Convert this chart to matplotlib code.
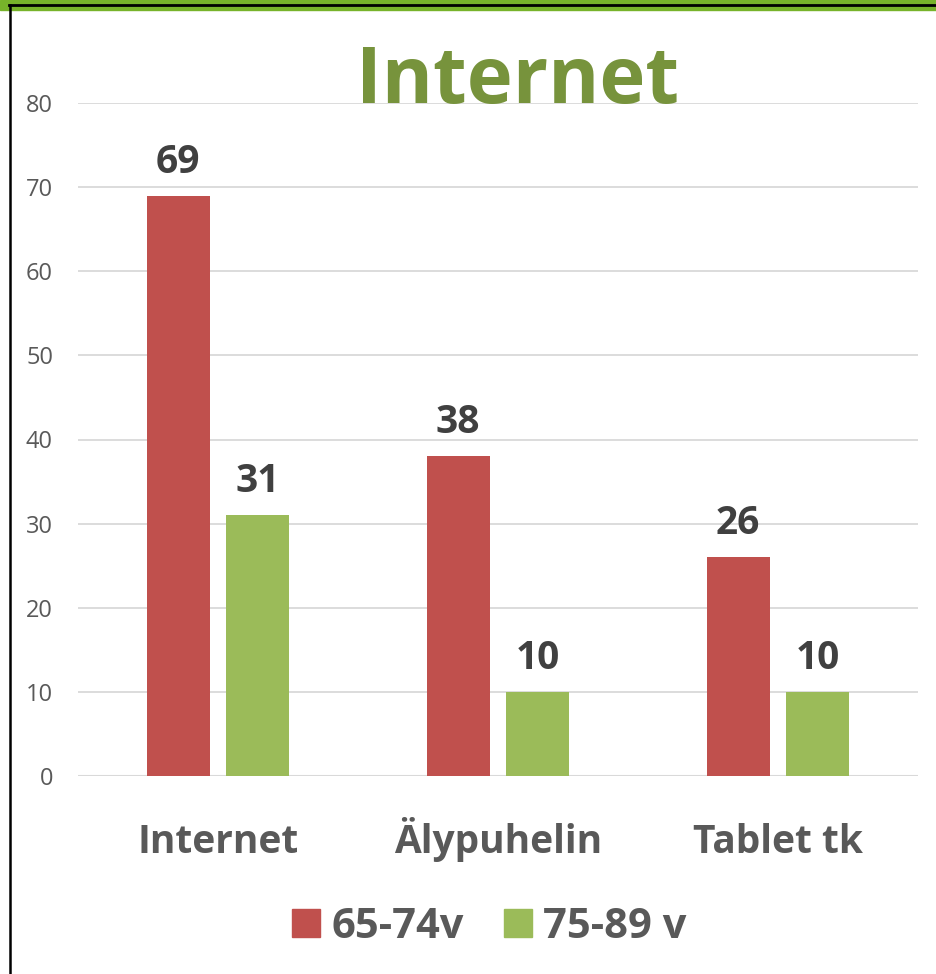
import numpy as np
import matplotlib
matplotlib.use("Agg")
import matplotlib.pyplot as plt
from matplotlib.lines import Line2D
from matplotlib.patches import Rectangle

plt.rcParams["font.family"] = ["Open Sans", "DejaVu Sans"]

categories = ["Internet", "Älypuhelin", "Tablet tk"]
series_names = ["65-74v", "75-89 v"]
values_65_74 = [69, 38, 26]
values_75_89 = [31, 10, 10]
yticks = [0, 10, 20, 30, 40, 50, 60, 70, 80]

RED = "#C0504D"
GREEN = "#9BBB59"
TITLE_GREEN = "#77933C"
GRID = "#D9D9D9"
TICK_GREY = "#595959"
VALUE_GREY = "#404040"

W, H = 936, 974
fig = plt.figure(figsize=(W / 100, H / 100), dpi=100)
ax = fig.add_axes([78 / W, 1 - 776 / H, 840 / W, 673 / H])

x = np.arange(len(categories))
bw = 0.225
off = 0.1425
for vals, dx, col in ((values_65_74, -off, RED), (values_75_89, off, GREEN)):
    b = ax.bar(x + dx, vals, width=bw, color=col, zorder=3)
    for rect, v in zip(b, vals):
        ax.annotate(str(v), (rect.get_x() + rect.get_width() / 2, v),
                    xytext=(0, 16.5), textcoords="offset points",
                    ha="center", va="baseline", fontsize=28,
                    fontweight="bold", color=VALUE_GREY, zorder=4)

ax.set_xlim(-0.5, len(categories) - 0.5)
ax.set_ylim(0, 80)
ax.set_yticks(yticks)
ax.set_yticklabels([str(t) for t in yticks], fontsize=17, color=TICK_GREY)
ax.set_xticks(x)
ax.set_xticklabels([])
ax.tick_params(axis="y", length=0, pad=18)
ax.tick_params(axis="x", length=0)
ax.grid(axis="y", color=GRID, linewidth=1.3, zorder=0)
for s in ax.spines.values():
    s.set_visible(False)
ax.axhline(0, color=GRID, linewidth=1.5, zorder=2)

# category labels share one baseline
for xi, name in zip(x, categories):
    ax.text(xi, -77 / 673, name, transform=ax.get_xaxis_transform(),
            ha="center", va="baseline", fontsize=28, fontweight="bold",
            color=TICK_GREY)

fig.text(518 / W, 1 - 103 / H, "Internet", ha="center", va="baseline",
         fontsize=56, fontweight="bold", color=TITLE_GREEN)

handles = [Line2D([], [], marker="s", linestyle="", markersize=19.5,
                  markerfacecolor=c, markeredgecolor=c) for c in (RED, GREEN)]
fig.legend(handles, series_names, loc="center", bbox_to_anchor=(490 / W, 1 - 927 / H),
           ncol=2, frameon=False, handlelength=0.6, handletextpad=0.3,
           columnspacing=1.0, prop={"size": 30, "weight": "bold"},
           labelcolor=TICK_GREY)

# frame: green band with black line on top, black line on left
fig.patches.append(Rectangle((0, 1 - 10 / H), 1, 10 / H, transform=fig.transFigure,
                             color="#77B32A", zorder=10))
fig.lines.append(Line2D([9 / W, 1], [1 - 5 / H, 1 - 5 / H], transform=fig.transFigure,
                        color="black", linewidth=2.0, zorder=11))
fig.lines.append(Line2D([10 / W, 10 / W], [0, 1 - 5 / H], transform=fig.transFigure,
                        color="black", linewidth=1.8, zorder=11))

fig.savefig("out.png", dpi=100)
